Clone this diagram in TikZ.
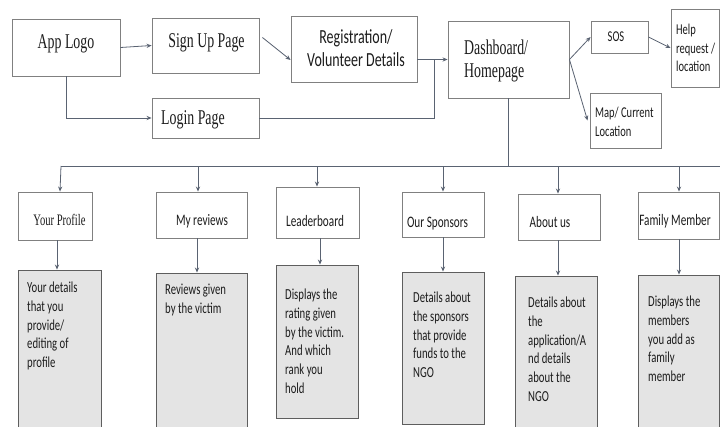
\documentclass[tikz,border=0pt]{standalone}
\usepackage{fontspec}
\setmainfont{Liberation Serif}[FakeStretch=0.66]
\newfontfamily\calf{Carlito}[FakeStretch=0.7]
\usetikzlibrary{arrows.meta,calc}
\definecolor{bordc}{HTML}{808080}
\definecolor{gbord}{HTML}{5E5E5E}
\definecolor{gfill}{HTML}{E4E4E4}
\definecolor{linec}{HTML}{5A6372}
\definecolor{txt}{HTML}{1C1C1C}
\tikzset{
  wbox/.style={draw=bordc, line width=0.9pt, fill=white, inner sep=0pt},
  gbox/.style={draw=gbord, line width=0.9pt, fill=gfill, inner sep=0pt},
  conn/.style={draw=linec, line width=0.8pt},
  arr/.style={conn, -{Stealth[length=5pt,width=4.2pt]}},
  bigser/.style={inner sep=0pt, text=txt, font=\fontsize{21}{23}\selectfont},
  midser/.style={inner sep=0pt, text=txt, font=\fontsize{16}{18}\selectfont},
  calbig/.style={inner sep=0pt, text=txt, font=\calf\fontsize{20}{23}\selectfont},
  calmid/.style={inner sep=0pt, text=txt, font=\calf\fontsize{16}{18}\selectfont},
  calsm/.style={inner sep=0pt, text=txt, font=\calf\fontsize{15}{18.5}\selectfont},
  graytxt/.style={inner sep=0pt, text=txt, anchor=north west, align=left, font=\calf\fontsize{15.3}{18.7}\selectfont},
}
\begin{document}
\begin{tikzpicture}[x=1pt,y=-1pt]
\useasboundingbox (0,0) rectangle (720,426);
\clip (0,0) rectangle (720,426);
\fill[white] (0,0) rectangle (720,426);
% top row boxes
\node[wbox, minimum width=108, minimum height=57] (logo) at (66,47.5) {};
\node[wbox, minimum width=107, minimum height=55] (signup) at (205.5,45.5) {};
\node[wbox, minimum width=126, minimum height=66] (reg) at (354,49) {};
\node[wbox, minimum width=107, minimum height=40] (login) at (205.5,118) {};
\node[wbox, minimum width=121, minimum height=77] (dash) at (508.5,59.5) {};
\node[wbox, minimum width=57, minimum height=32] (sos) at (619.5,37) {};
\node[wbox, minimum width=48, minimum height=78] (help) at (695,48) {};
\node[wbox, minimum width=71, minimum height=55] (map) at (625.5,120.5) {};
% texts of top row
\node[bigser] (logoT) at (66,44) {App Logo};
\node[bigser] (signT) at (206.5,43) {Sign Up Page};
\node[bigser, anchor=west] (loginT) at (161,120) {Login Page};
\node[calbig, align=center] (regT) at (356,48) {Registration/\\Volunteer Details};
\node[bigser, anchor=west, align=left] (dashT) at (464,61) {Dashboard/\\Homepage};
\node[calsm] (sosT) at (616,37) {SOS};
\node[calsm, anchor=west, align=left] (helpT) at (676,48) {Help\\request /\\location};
\node[calsm, anchor=west, align=left] (mapT) at (595,122) {Map/ Current\\Location};
% second row boxes
\node[wbox, minimum width=74, minimum height=48] (profile) at (55,216) {};
\node[wbox, minimum width=91, minimum height=46] (reviews) at (201.5,215) {};
\node[wbox, minimum width=83, minimum height=51] (leader) at (317.5,212.5) {};
\node[wbox, minimum width=82, minimum height=45] (sponsors) at (443,214.5) {};
\node[wbox, minimum width=82, minimum height=46] (about) at (559,217) {};
\node[wbox, minimum width=81, minimum height=47] (family) at (678.5,215.5) {};
\node[midser] (profileT) at (59.5,220) {Your Profile};
\node[calmid] (reviewsT) at (202,221) {My reviews};
\node[calmid] (leaderT) at (315,221) {Leaderboard};
\node[calmid] (sponsorsT) at (437.5,224) {Our Sponsors};
\node[calmid] (aboutT) at (550,222) {About us};
\node[calmid] (familyT) at (675,221) {Family Member};
% gray boxes
\node[gbox, minimum width=83, minimum height=166] (g1) at (59.5,353) {};
\node[gbox, minimum width=91, minimum height=163] (g2) at (201.5,354.5) {};
\node[gbox, minimum width=82, minimum height=153] (g3) at (317,341.5) {};
\node[gbox, minimum width=82, minimum height=152] (g4) at (443,348) {};
\node[gbox, minimum width=82, minimum height=160] (g5) at (556,356) {};
\node[gbox, minimum width=81, minimum height=161] (g6) at (678.5,355.5) {};
\node[graytxt] (g1T) at (27,282) {Your details\\that you\\provide/\\editing of\\profile};
\node[graytxt] (g2T) at (165,284) {Reviews given\\by the victim};
\node[graytxt] (g3T) at (285,289) {Displays the\\rating given\\by the victim.\\And which\\rank you\\hold};
\node[graytxt] (g4T) at (413,292) {Details about\\the sponsors\\that provide\\funds to the\\NGO};
\node[graytxt] (g5T) at (528,297) {Details about\\the\\application/A\\nd details\\about the\\NGO};
\node[graytxt] (g6T) at (648,296) {Displays the\\members\\you add as\\family\\member};
% connectors top
\coordinate (j) at (434,60);
\draw[arr] (logo.east) -- (signup.west);
\draw[arr] ([shift={(3,-8)}]signup.east) -- ([shift={(0,11)}]reg.west);
\draw[arr] (logo.south) |- (login.west);
\draw[conn] (login.east) -| (j);
\draw[arr] (reg.east |- dash.west) -- (dash.west);
\draw[arr] (dash.east) -- (sos.west);
\draw[arr] (dash.east) -- ([xshift=-2pt]map.west);
\draw[arr] (sos.east) -- (help.west);
% bus
\coordinate (busL) at (61,166);
\coordinate (busR) at (722,166);
\draw[conn] (dash.south) -- (dash.south |- busL);
\draw[conn] (busL) -- (busR);
\coordinate (d2) at (198,166);
\coordinate (d3) at (317,166);
\coordinate (d4) at (443,166);
\coordinate (d5) at (558,166);
\coordinate (d6) at (679,166);
\draw[arr] (busL) -- ([xshift=5pt]profile.north);
\draw[arr] (d2) -- (d2 |- reviews.north);
\draw[arr] (d3) -- (d3 |- leader.north);
\draw[arr] (d4) -- (d4 |- sponsors.north);
\draw[arr] (d5) -- (d5 |- about.north);
\draw[arr] (d6) -- (d6 |- family.north);
% lower arrows
\coordinate (a1) at (57,0);
\coordinate (a2) at (197,0);
\coordinate (a3) at (320,0);
\coordinate (a4) at (443,0);
\coordinate (a5) at (558,0);
\coordinate (a6) at (679,0);
\draw[arr] (profile.south -| a1) -- (g1.north -| a1);
\draw[arr] (reviews.south -| a2) -- (g2.north -| a2);
\draw[arr] (leader.south -| a3) -- (g3.north -| a3);
\draw[arr] (sponsors.south -| a4) -- (g4.north -| a4);
\draw[arr] (about.south -| a5) -- (g5.north -| a5);
\draw[arr] (family.south -| a6) -- (g6.north -| a6);
\end{tikzpicture}
\end{document}
